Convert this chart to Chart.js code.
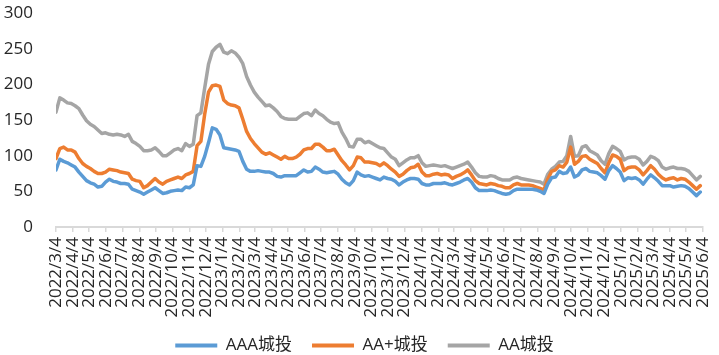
<!DOCTYPE html>
<html><head><meta charset="utf-8">
<script src="https://cdn.jsdelivr.net/npm/chart.js@4.4.1/dist/chart.umd.min.js"></script>
<style>html,body{margin:0;padding:0;background:#fff;}#wrap{width:719px;height:355px;position:relative;}</style>
</head><body><div id="wrap"><canvas id="c" width="719" height="355"></canvas></div>
<script>
// weekly observations, first one on 2022/3/4
const startDate = '2022/3/4';
const tickLabels = ['2022/3/4','2022/4/4','2022/5/4','2022/6/4','2022/7/4','2022/8/4','2022/9/4','2022/10/4','2022/11/4','2022/12/4',
 '2023/1/4','2023/2/4','2023/3/4','2023/4/4','2023/5/4','2023/6/4','2023/7/4','2023/8/4','2023/9/4','2023/10/4','2023/11/4','2023/12/4',
 '2024/1/4','2024/2/4','2024/3/4','2024/4/4','2024/5/4','2024/6/4','2024/7/4','2024/8/4','2024/9/4','2024/10/4','2024/11/4','2024/12/4',
 '2025/1/4','2025/2/4','2025/3/4','2025/4/4','2025/5/4','2025/6/4'];
const seriesNames = ['AAA城投','AA+城投','AA城投'];
const yTicks = [0,50,100,150,200,250,300];

const aaa = [80,95,92,90,87,84,77,71,65,62,60,56,57,63,67,64,63,61,61,60,
 53,51,49,46,49,52,55,51,47,48,50,51,52,51,56,55,59,86,85,99,
 118,139,137,129,111,110,109,108,106,92,81,78,78,79,78,77,77,75,71,70,
 72,72,72,72,76,80,77,78,84,81,77,76,77,78,74,67,62,59,65,77,
 73,71,72,70,68,66,70,68,67,64,59,63,66,68,68,67,61,59,59,61,
 61,61,62,60,59,61,63,66,68,63,55,51,51,51,52,51,49,47,46,47,
 51,53,53,53,53,53,52,50,47,60,69,70,78,75,76,84,70,73,80,82,
 78,77,76,72,67,79,86,82,77,65,69,68,69,66,60,67,73,69,64,58,
 58,58,56,57,58,57,54,49,44,49];
const aaPlus = [96,110,112,108,108,105,96,89,85,82,78,75,75,77,81,80,79,77,76,75,
 67,65,64,55,58,63,68,63,60,64,66,68,70,68,73,75,78,114,120,158,
 189,198,199,197,178,173,171,170,167,151,134,124,117,111,105,102,104,101,98,95,
 99,96,96,98,102,108,110,110,116,116,112,107,107,109,101,93,87,80,86,98,
 97,91,91,90,89,86,90,86,81,77,71,74,79,83,84,88,77,72,72,74,
 75,73,74,73,68,71,73,76,80,73,65,61,60,59,61,60,58,57,55,55,
 59,61,59,59,59,58,56,54,52,67,78,80,86,84,91,112,88,92,99,100,
 95,92,89,82,76,90,101,99,95,79,83,84,84,80,73,79,86,81,74,69,
 66,68,69,66,68,67,63,58,53,58];
const aa = [161,181,178,174,173,170,166,157,149,144,141,136,131,132,130,129,130,129,127,130,
 120,117,113,107,107,108,111,106,100,100,104,108,110,107,117,113,116,156,160,195,
 228,246,252,256,245,243,247,244,238,229,211,199,189,182,176,170,171,167,162,155,
 152,151,151,151,155,159,160,156,164,159,156,151,147,145,146,133,124,113,112,123,
 123,118,120,117,114,111,110,104,98,95,86,90,94,97,97,100,90,85,86,87,
 86,85,86,84,82,84,86,88,91,84,76,71,70,70,72,71,68,66,66,66,
 69,70,68,67,66,65,64,63,60,74,81,85,91,92,100,127,99,100,112,114,
 107,104,101,93,88,103,113,110,106,94,97,98,98,95,87,92,99,97,93,84,
 81,83,84,82,82,81,78,72,66,71];

const colors = ['#5B9BD5','#ED7D31','#A5A5A5'];
const FONT = "'Open Sans','Noto Sans CJK SC',sans-serif";
const TEXT = '#262626';

function dayOffset(s){
  const p = s.split('/').map(Number), q = startDate.split('/').map(Number);
  return Math.round((Date.UTC(p[0],p[1]-1,p[2]) - Date.UTC(q[0],q[1]-1,q[2]))/86400000);
}
const toPts = arr => arr.map((v,i)=>({x:i*7, y:v}));
const seriesData = [aaa, aaPlus, aa];

// center the legend row under the plot the way the original does
const legendShift = {
  id: 'legendShift',
  afterLayout(chart) { const lg = chart.legend; if (lg) { lg.left += 13; lg.right += 13; } }
};

new Chart(document.getElementById('c'), {
  type: 'line',
  data: {
    datasets: seriesData.map((arr,k)=>({
      label: seriesNames[k], data: toPts(arr),
      borderColor: colors[k], backgroundColor: colors[k],
      borderWidth: 3.5, pointRadius: 0, tension: 0, fill: false,
      borderJoinStyle: 'round', borderCapStyle: 'round'
    }))
  },
  plugins: [legendShift],
  options: {
    responsive: false, animation: false, devicePixelRatio: 1,
    layout: { padding: { top: 13, right: 16, bottom: -9, left: 0 } },
    plugins: {
      legend: {
        position: 'bottom',
        labels: {
          boxWidth: 42, boxHeight: 4, padding: 20,
          color: TEXT, font: { family: FONT, size: 17 },
          generateLabels: (chart) => {
            const items = Chart.defaults.plugins.legend.labels.generateLabels(chart);
            items.forEach(it => { it.lineWidth = 0; });
            return items;
          }
        }
      },
      tooltip: { enabled: false }
    },
    scales: {
      x: {
        type: 'linear',
        min: 0, max: dayOffset(tickLabels[tickLabels.length-1]),
        afterBuildTicks: (scale) => { scale.ticks = tickLabels.map(l => ({ value: dayOffset(l) })); },
        afterFit: (scale) => { scale.height = 90; scale.paddingLeft = 0; scale.paddingRight = 0; },
        ticks: {
          autoSkip: false, minRotation: 90, maxRotation: 90, padding: 5,
          color: TEXT, font: { family: FONT, size: 17 },
          callback: (v, i) => tickLabels[i]
        },
        grid: { drawOnChartArea: false, drawTicks: true, tickLength: 5, color: '#d9d9d9', lineWidth: 1.5 },
        border: { display: true, color: '#d9d9d9', width: 2 }
      },
      y: {
        min: 0, max: 300,
        afterBuildTicks: (scale) => { scale.ticks = yTicks.map(v => ({ value: v })); },
        afterFit: (scale) => { scale.width = 56; scale.paddingTop = 0; scale.paddingBottom = 0; },
        ticks: { padding: 23, color: TEXT, font: { family: FONT, size: 17 } },
        grid: { display: false, drawTicks: false },
        border: { display: false }
      }
    }
  }
});
</script>
</body></html>
